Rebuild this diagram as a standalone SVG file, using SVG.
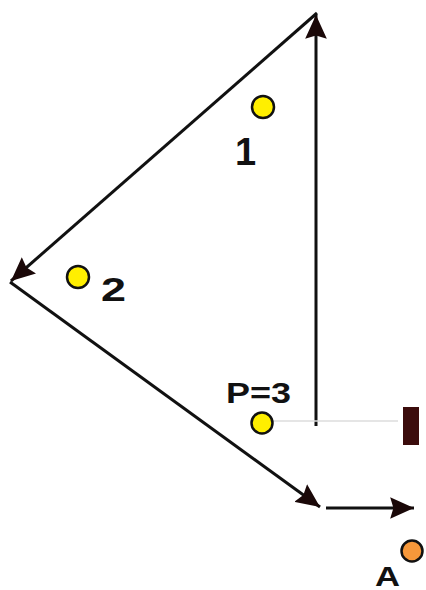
<svg xmlns="http://www.w3.org/2000/svg" width="426" height="590" viewBox="0 0 426 590">
<style>
.ln{stroke:#111;stroke-width:3;fill:none}
.dot{fill:#ffef00;stroke:#111;stroke-width:2.5}
.lbl{font-family:"Liberation Sans",Arial,sans-serif;font-weight:bold;fill:#111}
</style>
<defs>
<marker id="ah" markerUnits="userSpaceOnUse" markerWidth="26" markerHeight="22" refX="22" refY="10" orient="auto" viewBox="0 0 24 20">
<path d="M0,0 L22,10 L0,20 L3,10 z" fill="#1a0808"/>
</marker>
</defs>
<rect width="426" height="590" fill="#fff"/>
<g id="connectors">
<line class="ln" x1="316" y1="426" x2="316" y2="15" marker-end="url(#ah)"/>
<line class="ln" x1="317" y1="13" x2="11" y2="281" marker-end="url(#ah)"/>
<line class="ln" x1="10" y1="282" x2="320" y2="507" marker-end="url(#ah)"/>
<line class="ln" x1="326" y1="508" x2="414" y2="508" marker-end="url(#ah)"/>
<line x1="272" y1="421" x2="398" y2="421" stroke="#dcdcdc" stroke-width="1.5"/>
</g>
<g id="node1">
<circle class="dot" cx="263" cy="107" r="11"/>
<text class="lbl" x="235" y="165" font-size="38">1</text>
</g>
<g id="node2">
<circle class="dot" cx="78" cy="277" r="11"/>
<text class="lbl" x="101" y="301" font-size="33" textLength="25" lengthAdjust="spacingAndGlyphs">2</text>
</g>
<g id="node3">
<circle class="dot" cx="262" cy="423" r="10.5"/>
<text class="lbl" x="226" y="403" font-size="30" textLength="65" lengthAdjust="spacingAndGlyphs">P=3</text>
</g>
<g id="block">
<rect x="403" y="407" width="16" height="38" fill="#3b0c0c"/>
</g>
<g id="nodeA">
<circle cx="412" cy="551" r="10.5" fill="#f7983a" stroke="#111" stroke-width="2.5"/>
<text class="lbl" x="375" y="586" font-size="27" textLength="25" lengthAdjust="spacingAndGlyphs">A</text>
</g>
</svg>
